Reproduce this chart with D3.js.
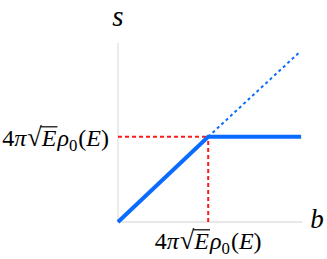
<!DOCTYPE html>
<html>
<head>
<meta charset="utf-8">
<script src="https://cdn.jsdelivr.net/npm/d3@7"></script>
<style>
  body { margin: 0; background: #fff; }
  svg { display: block; }
  text { font-family: "Liberation Serif", "DejaVu Serif", serif; fill: #000; }
</style>
</head>
<body>
<svg></svg>
<script>
const width = 327, height = 259

// knee at b = s = 1 (the value 4π√E ρ0(E))
const kneeValue = 1
const solidLine = [[0, 0], [1, 1], [2.03, 1]]
const dottedLine = [[1, 1], [2.02, 2.0]]
const guideH = [[0, 1], [1, 1]]
const guideV = [[1, 0], [1, 1]]
const axisLabels = {x: "b", y: "s"}

const x = d3.scaleLinear().domain([0, 2.04]).range([118, 302])
const y = d3.scaleLinear().domain([0, 2.1]).range([222, 43])

const svg = d3.select("svg").attr("width", width).attr("height", height)

const line = d3.line().x(d => x(d[0])).y(d => y(d[1]))

// axes
svg.append("line")
    .attr("x1", x(0)).attr("x2", x(0))
    .attr("y1", y(0) + 1).attr("y2", y(2.1))
    .style("stroke", "#e0e0e0").style("stroke-width", 1.3)
svg.append("line")
    .attr("x1", x(0)).attr("x2", x(2.04))
    .attr("y1", y(0)).attr("y2", y(0))
    .style("stroke", "#e0e0e0").style("stroke-width", 1.3)

// red guides
svg.selectAll("path.guide")
  .data([guideH, guideV])
  .enter().append("path")
    .classed("guide", true)
    .attr("d", line)
    .style("fill", "none")
    .style("stroke", "#ff1a1a")
    .style("stroke-width", 2)
    .style("stroke-dasharray", "4,3")

svg.append("path")
    .attr("d", line(dottedLine))
    .style("fill", "none")
    .style("stroke", "#0a6cff")
    .style("stroke-width", 2)
    .style("stroke-dasharray", "3,3")

svg.append("path")
    .attr("d", line(solidLine))
    .style("fill", "none")
    .style("stroke", "#0a6cff")
    .style("stroke-width", 4)
    .style("stroke-linejoin", "miter")

// axis letters
svg.append("text")
    .attr("x", x(0)).attr("y", 26)
    .attr("text-anchor", "middle")
    .style("font-size", "29px").style("font-style", "italic")
    .text(axisLabels.y)
svg.append("text")
    .attr("x", 317).attr("y", 228)
    .attr("text-anchor", "middle")
    .style("font-size", "27px").style("font-style", "italic")
    .text(axisLabels.x)

// math label 4π√E ρ0(E), built piece by piece
function mathLabel (px, py, anchor) {
  const fs = 24
  const g = svg.append("g")
  const pieces = [
    {t: "4", it: false},
    {t: "π", it: true},
    {t: "√", it: false, dx: 1, scale: 1.1},
    {t: "E", it: true, over: true},
    {t: "ρ", it: true, dx: 1},
    {t: "0", it: false, sub: true},
    {t: "(", it: false, dx: 1},
    {t: "E", it: true},
    {t: ")", it: false}
  ]
  let cx = 0
  pieces.forEach(p => {
    cx += p.dx || 0
    const t = g.append("text")
      .attr("x", cx)
      .attr("y", p.sub ? 5 : 0)
      .style("font-size", (p.sub ? fs * 0.7 : fs * (p.scale || 1)) + "px")
      .style("font-style", p.it ? "italic" : "normal")
      .text(p.t)
    const w = t.node().getComputedTextLength()
    if (p.over) {
      g.append("line")
        .attr("x1", cx - 1).attr("x2", cx + w + 1)
        .attr("y1", -fs * 0.8).attr("y2", -fs * 0.8)
        .style("stroke", "#000").style("stroke-width", 1.2)
    }
    cx += w
  })
  const shift = anchor === "middle" ? -cx / 2 : anchor === "end" ? -cx : 0
  g.attr("transform", `translate(${px + shift},${py})`)
}

mathLabel(109, 146, "end")
mathLabel(x(kneeValue), 249, "middle")
</script>
</body>
</html>
